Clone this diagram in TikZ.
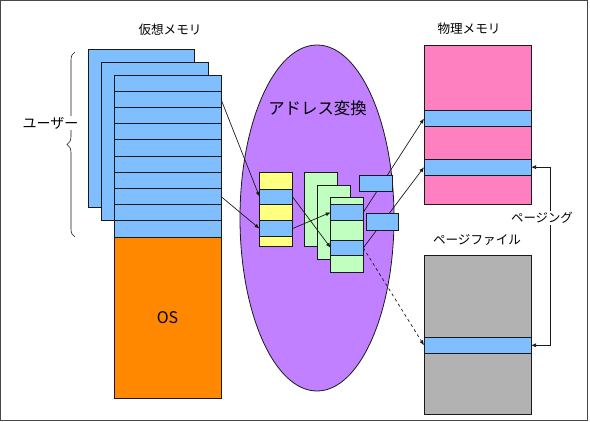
\documentclass[tikz,border=0pt]{standalone}
\usepackage{fontspec}
\newfontfamily\jp{Noto Sans CJK JP}
\usetikzlibrary{arrows.meta,shapes.geometric,decorations.pathreplacing}
\definecolor{vblue}{HTML}{80BFFF}
\definecolor{osorange}{HTML}{FF8800}
\definecolor{xpurple}{HTML}{C080FF}
\definecolor{tyellow}{HTML}{FFFF80}
\definecolor{tgreen}{HTML}{C0FFC0}
\definecolor{ppink}{HTML}{FF80C0}
\definecolor{fgray}{HTML}{B2B2B2}
\definecolor{lc}{HTML}{1A1A1A}
\begin{document}
\begin{tikzpicture}[x=1pt,y=-1pt,
  box/.style={draw=lc, line width=0.8pt, inner sep=0pt, outer sep=0pt, anchor=north west},
  lbl/.style={font=\jp, inner sep=1pt},
  arr/.style={draw=lc, line width=0.7pt, -{Latex[length=5pt,width=4pt]}},
]
\useasboundingbox (0,0) rectangle (590,422);
\draw[draw=lc!80, line width=1.2pt] (0.6,0.6) rectangle (587.4,420.4);

% virtual memory
\node[box,fill=vblue,minimum width=106pt,minimum height=158pt] (vback1) at (88,49) {};
\node[box,fill=vblue,minimum width=107pt,minimum height=158pt] (vback2) at (101,62) {};
\foreach \i in {1,...,10}
  \node[box,fill=vblue,minimum width=107pt,minimum height=16.2pt] (vr\i) at (114,{75+16.2*(\i-1)}) {};
\node[box,fill=osorange,minimum width=107pt,minimum height=161pt] (os) at (114,237) {};
\node[font=\jp\fontsize{16}{18}\selectfont] (oslbl) at (os.center) {OS};
\node[lbl,font=\jp\fontsize{12.6}{14}\selectfont] (vmlbl) at (170,30) {仮想メモリ};

% brace and user label
\draw[draw=lc, line width=0.6pt, decorate, decoration={brace, amplitude=8pt}] (75,237) -- (75,52) coordinate[pos=0.5] (bmid);
\node[lbl,fill=white,font=\jp\fontsize{14}{16}\selectfont] (user) at (50.5,123.5) {ユーザー};

% address translation
\node[ellipse, draw=lc, line width=0.8pt, fill=xpurple, minimum width=154pt, minimum height=346pt, inner sep=0pt] (xlat) at (317,218) {};
\node[lbl,font=\jp\fontsize{16.4}{18}\selectfont] (xlbl) at (317.5,108) {アドレス変換};

% yellow table
\node[box,fill=tyellow,minimum width=33pt,minimum height=17pt] (yt1) at (259.5,172) {};
\node[box,fill=vblue,minimum width=33pt,minimum height=15.5pt] (yb1) at (259.5,189) {};
\node[box,fill=tyellow,minimum width=33pt,minimum height=16pt] (yt2) at (259.5,204.5) {};
\node[box,fill=vblue,minimum width=33pt,minimum height=16.2pt] (yb2) at (259.5,220.5) {};
\node[box,fill=tyellow,minimum width=33pt,minimum height=10pt] (yt3) at (259.5,236.7) {};

% green tables
\node[box,fill=tgreen,minimum width=33pt,minimum height=74.7pt] (g1) at (304.5,172) {};
\node[box,fill=tgreen,minimum width=32.5pt,minimum height=74.3pt] (g2) at (317.5,185) {};
\node[box,fill=tgreen,minimum width=32.6pt,minimum height=7pt] (gt1) at (330.7,197.7) {};
\node[box,fill=vblue,minimum width=32.6pt,minimum height=15.3pt] (gb1) at (330.7,204.7) {};
\node[box,fill=tgreen,minimum width=32.6pt,minimum height=20pt] (gt2) at (330.7,220) {};
\node[box,fill=vblue,minimum width=32.6pt,minimum height=15.7pt] (gb2) at (330.7,240) {};
\node[box,fill=tgreen,minimum width=32.6pt,minimum height=16.6pt] (gt3) at (330.7,255.7) {};

% physical memory
\node[lbl,font=\jp\fontsize{12.6}{14}\selectfont] (pmlbl) at (469,29) {物理メモリ};
\node[box,fill=ppink,minimum width=107pt,minimum height=158.3pt] (pm) at (424,45.7) {};
\node[box,fill=vblue,minimum width=107pt,minimum height=16.4pt] (pb1) at (424,110.3) {};
\node[box,fill=vblue,minimum width=107pt,minimum height=15.7pt] (pb2) at (424,159.3) {};

% page file
\node[lbl,font=\jp\fontsize{12.6}{14}\selectfont] (pflbl) at (477,239.5) {ページファイル};
\node[box,fill=fgray,minimum width=107pt,minimum height=158.6pt] (pf) at (424,255.7) {};
\node[box,fill=vblue,minimum width=107pt,minimum height=16pt] (fb) at (424,337.3) {};

% arrows
\draw[arr] (vr2.east) -- (yb1.west);
\draw[arr] (vr8.east) -- (yb2.west);
\draw[arr] (yb1.east) -- (gb2.west);
\draw[arr] (yb2.east) -- (gb1.west);
\draw[arr] (gb1.east) -- (pb1.west);
\draw[arr] (gb2.east) -- (pb2.west);
\draw[arr, dashed] (gb2.east) -- (fb.west);

% small boxes (on top of arrows)
\node[box,fill=vblue,minimum width=32.3pt,minimum height=16.4pt] (sb1) at (359.7,175.3) {};
\node[box,fill=vblue,minimum width=32.3pt,minimum height=16.3pt] (sb2) at (366,213.7) {};

% paging
\coordinate (px) at (550,0);
\draw[draw=lc, line width=0.7pt, {Latex[length=5pt,width=4pt]}-{Latex[length=5pt,width=4pt]}] (pb2.east) -- (pb2.east -| px) -- (fb.east -| px) -- (fb.east);
\node[lbl,fill=white,font=\jp\fontsize{12.4}{14}\selectfont] (paging) at (542,218) {ページング};
\end{tikzpicture}
\end{document}
